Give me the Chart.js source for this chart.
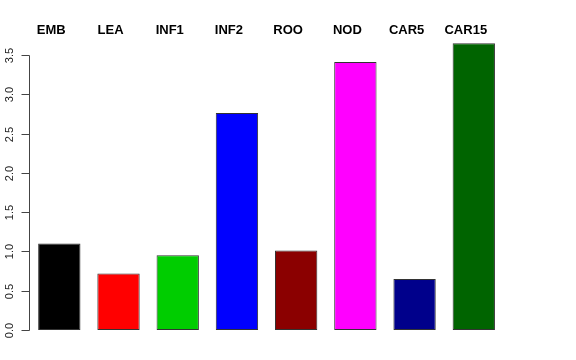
<!DOCTYPE html>
<html>
<head>
<meta charset="utf-8">
<script src="https://cdn.jsdelivr.net/npm/chart.js@4"></script>
<style>
html,body{margin:0;padding:0;background:#fff;}
#wrap{width:576px;height:360px;position:relative;}
</style>
</head>
<body>
<div id="wrap"><canvas id="c" width="576" height="360"></canvas></div>
<script>
const categories = ["EMB", "LEA", "INF1", "INF2", "ROO", "NOD", "CAR5", "CAR15"];
const values = [1.10, 0.72, 0.95, 2.76, 1.01, 3.41, 0.65, 3.65];
const barColors = ["#000000", "#FF0000", "#00CD00", "#0000FF", "#8B0000", "#FF00FF", "#00008B", "#006400"];
const yTicks = ["0.0", "0.5", "1.0", "1.5", "2.0", "2.5", "3.0", "3.5"];

const axisPlugin = {
  id: 'rAxis',
  afterDraw(chart) {
    const ctx = chart.ctx;
    const y = chart.scales.y, x = chart.scales.x;
    const axX = 29.5;
    ctx.save();
    ctx.strokeStyle = '#444';
    ctx.lineWidth = 1;
    const yTop = y.getPixelForValue(parseFloat(yTicks[yTicks.length - 1]));
    const yBot = y.getPixelForValue(parseFloat(yTicks[0]));
    ctx.beginPath();
    ctx.moveTo(axX, Math.round(yTop) + 0.5);
    ctx.lineTo(axX, Math.round(yBot) + 0.5);
    ctx.stroke();
    ctx.fillStyle = '#222';
    ctx.font = '11px "Liberation Sans", Arial, sans-serif';
    ctx.textAlign = 'center';
    ctx.textBaseline = 'middle';
    yTicks.forEach(t => {
      const py = Math.round(y.getPixelForValue(parseFloat(t))) + 0.5;
      ctx.beginPath();
      ctx.moveTo(axX, py);
      ctx.lineTo(axX - 8, py);
      ctx.stroke();
      ctx.save();
      ctx.translate(10, py);
      ctx.rotate(-Math.PI / 2);
      ctx.fillText(t, 0, 0);
      ctx.restore();
    });
    ctx.fillStyle = '#000';
    ctx.font = 'bold 13px "Liberation Sans", Arial, sans-serif';
    ctx.textAlign = 'center';
    ctx.textBaseline = 'alphabetic';
    categories.forEach((c, i) => {
      const px = x.getPixelForValue(i);
      ctx.fillText(c, px - 8, 34);
    });
    ctx.restore();
  }
};

new Chart(document.getElementById('c'), {
  type: 'bar',
  data: {
    labels: categories,
    datasets: [{
      data: values,
      backgroundColor: barColors,
      borderColor: '#333',
      borderWidth: 1,
      borderSkipped: false,
      categoryPercentage: 0.715,
      barPercentage: 1.0
    }]
  },
  options: {
    responsive: false,
    animation: false,
    devicePixelRatio: 1,
    layout: { padding: { left: 29.7, right: 72.6, top: 39.2, bottom: 30 } },
    plugins: { legend: { display: false }, tooltip: { enabled: false } },
    scales: {
      x: { display: false },
      y: { display: false, min: 0, max: 3.7 }
    }
  },
  plugins: [axisPlugin]
});
</script>
</body>
</html>
